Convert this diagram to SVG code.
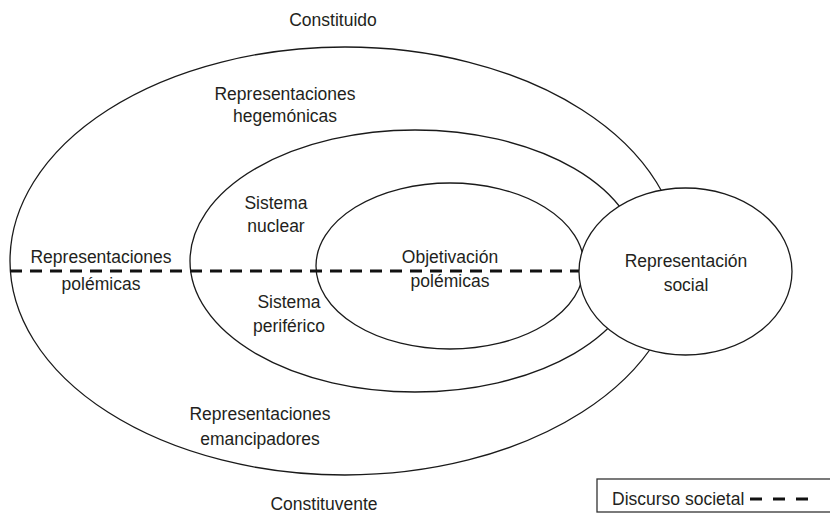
<svg xmlns="http://www.w3.org/2000/svg" width="830" height="513" viewBox="0 0 830 513">
<style>
.sh{fill:#fff;stroke:#1a1a1a;stroke-width:1.3}
.t{font-family:"Liberation Sans",Arial,sans-serif;font-size:17.5px;fill:#231f20;text-anchor:middle}
.d{stroke:#111;stroke-width:3;stroke-dasharray:12 8;fill:none}
</style>
<rect width="830" height="513" fill="#fff"/>
<g id="outer"><ellipse class="sh" cx="345" cy="261" rx="335" ry="214"/></g>
<g id="middle"><ellipse class="sh" cx="415" cy="261" rx="225" ry="131"/></g>
<g id="inner"><ellipse class="sh" cx="450" cy="266" rx="134" ry="83"/></g>
<g id="connectors"><line class="d" x1="10" y1="271" x2="600" y2="271"/></g>
<g id="social"><ellipse class="sh" cx="685.5" cy="271.5" rx="106.5" ry="83.5"/>
<text class="t" x="686" y="267">Representación</text><text class="t" x="686" y="291">social</text></g>
<g id="labels">
<text class="t" x="333" y="26">Constituido</text>
<text class="t" x="285" y="100">Representaciones</text><text class="t" x="285" y="122">hegemónicas</text>
<text class="t" x="276" y="209">Sistema</text><text class="t" x="276" y="232">nuclear</text>
<text class="t" x="101" y="263">Representaciones</text><text class="t" x="101" y="290">polémicas</text>
<text class="t" x="450" y="263">Objetivación</text><text class="t" x="450" y="287">polémicas</text>
<text class="t" x="289" y="308">Sistema</text><text class="t" x="289" y="332">periférico</text>
<text class="t" x="260" y="420">Representaciones</text><text class="t" x="260" y="445">emancipadores</text>
<text class="t" x="324" y="510">Constituvente</text>
</g>
<g id="legend">
<rect x="597" y="479" width="240" height="33" fill="#fff" stroke="#333" stroke-width="1.3"/>
<text class="t" x="612" y="505" style="text-anchor:start">Discurso societal</text>
<line x1="750" y1="499" x2="808" y2="499" stroke="#111" stroke-width="3" stroke-dasharray="12 11"/>
</g>
</svg>
